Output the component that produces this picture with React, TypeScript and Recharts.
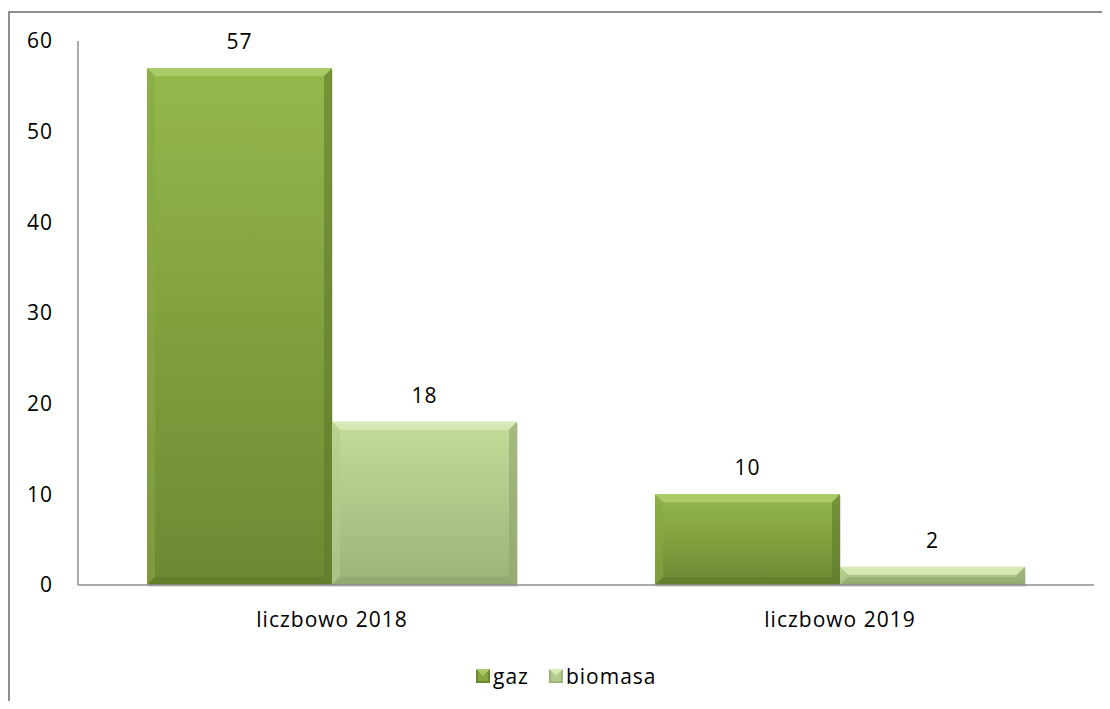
import { Bar, BarChart, LabelList, XAxis, YAxis } from "recharts";

const categories = ["liczbowo 2018", "liczbowo 2019"];
const gaz = [57, 10];
const biomasa = [18, 2];
const yTicks = [0, 10, 20, 30, 40, 50, 60];

const data = categories.map((name, i) => ({ name, gaz: gaz[i], biomasa: biomasa[i] }));

const FONT = "'Open Sans', sans-serif";
const SPACING = 1;

const palettes: Record<string, { top: string; bottom: string; bevTop: string; bevLeft: string; bevRight: string; bevBottom: string }> = {
  gaz: {
    top: "#95b84c",
    bottom: "#6c8932",
    bevTop: "#a9ca66",
    bevLeft: "#87a843",
    bevRight: "#5f7a2b",
    bevBottom: "#5a7428",
  },
  biomasa: {
    top: "#c4dc98",
    bottom: "#9cb379",
    bevTop: "#d7e9b6",
    bevLeft: "#b3cb8a",
    bevRight: "#8ea36c",
    bevBottom: "#8a9f69",
  },
};

function BevelBar(props: any) {
  const { x, y, width, height, dataKey } = props;
  if (!height || height <= 0) return null;
  const p = palettes[dataKey];
  const b = Math.min(8, height / 2, width / 2);
  const x2 = x + width;
  const y2 = y + height;
  const gid = `grad-${dataKey}`;
  return (
    <g>
      <defs>
        <linearGradient id={gid} x1="0" y1="0" x2="0" y2="1">
          <stop offset="0%" stopColor={p.top} />
          <stop offset="100%" stopColor={p.bottom} />
        </linearGradient>
      </defs>
      <rect x={x + 1} y={y + 2} width={width} height={height} fill="rgba(0,0,0,0.12)" />
      <rect x={x} y={y} width={width} height={height} fill={`url(#${gid})`} />
      <polygon points={`${x},${y} ${x2},${y} ${x2 - b},${y + b} ${x + b},${y + b}`} fill={p.bevTop} />
      <polygon points={`${x},${y} ${x + b},${y + b} ${x + b},${y2 - b} ${x},${y2}`} fill={p.bevLeft} opacity={0.6} />
      <polygon points={`${x2},${y} ${x2},${y2} ${x2 - b},${y2 - b} ${x2 - b},${y + b}`} fill={p.bevRight} opacity={0.6} />
      <polygon points={`${x},${y2} ${x + b},${y2 - b} ${x2 - b},${y2 - b} ${x2},${y2}`} fill={p.bevBottom} opacity={0.5} />
    </g>
  );
}

function LegendIcon({ kind }: { kind: string }) {
  const p = palettes[kind];
  return (
    <svg width={14} height={14} style={{ marginRight: 3 }}>
      <rect x={0} y={0} width={14} height={14} fill={p.bottom} />
      <polygon points="0,0 14,0 7,7.5" fill={p.bevTop} />
      <rect x={2} y={4} width={10} height={8} fill={p.top} opacity={0.6} />
    </svg>
  );
}

const textStyle = { fill: "#000", fontSize: 21, fontFamily: FONT, letterSpacing: SPACING };

export default function App() {
  return (
    <div style={{ position: "relative", width: 1110, height: 709, margin: -8, background: "#fff", overflow: "hidden" }}>
      <div
        style={{
          position: "absolute",
          left: 8,
          top: 11,
          width: 1200,
          height: 800,
          borderTop: "2px solid #8e8e8e",
          borderLeft: "2px solid #8e8e8e",
        }}
      />
      <div style={{ position: "absolute", left: 0, top: 0 }}>
        <BarChart
          width={1110}
          height={709}
          data={data}
          margin={{ top: 41, right: 16, bottom: 0, left: 0 }}
          barCategoryGap={69}
          barGap={0}
        >
          <XAxis
            dataKey="name"
            height={124}
            tickSize={0}
            tickMargin={27}
            axisLine={{ stroke: "#8e8e8e", strokeWidth: 1.5 }}
            tick={textStyle}
          />
          <YAxis
            width={78}
            domain={[0, 60]}
            ticks={yTicks}
            tickSize={0}
            tickMargin={25}
            axisLine={{ stroke: "#8e8e8e", strokeWidth: 1.5 }}
            tick={textStyle}
          />
          <Bar dataKey="gaz" shape={<BevelBar dataKey="gaz" />} isAnimationActive={false}>
            <LabelList dataKey="gaz" position="top" offset={19} style={textStyle} />
          </Bar>
          <Bar dataKey="biomasa" shape={<BevelBar dataKey="biomasa" />} isAnimationActive={false}>
            <LabelList dataKey="biomasa" position="top" offset={19} style={textStyle} />
          </Bar>
        </BarChart>
      </div>
      <div
        style={{
          position: "absolute",
          left: 476,
          top: 662,
          display: "flex",
          alignItems: "center",
          fontFamily: FONT,
          fontSize: 21,
          letterSpacing: SPACING,
          color: "#000",
        }}
      >
        <LegendIcon kind="gaz" />
        <span style={{ marginRight: 20 }}>gaz</span>
        <LegendIcon kind="biomasa" />
        <span>biomasa</span>
      </div>
    </div>
  );
}
